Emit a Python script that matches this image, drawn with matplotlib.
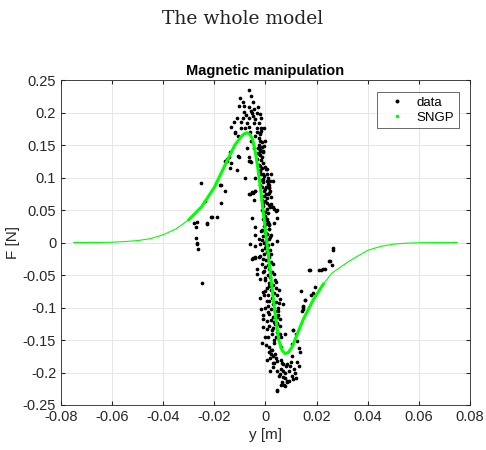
import numpy as np
import matplotlib
matplotlib.use("Agg")
import matplotlib.pyplot as plt

plt.rcParams.update({
    "font.family": "Liberation Sans",
    "axes.unicode_minus": False,
})

data_y = [
    # upper cluster
    -0.0066, -0.0058, -0.0100, -0.0087, -0.0050, -0.0103, -0.0066, -0.0045, -0.0084, -0.0053,
    -0.0034, -0.0021, -0.0113, -0.0089, -0.0066, -0.0040, -0.0016, -0.0123, -0.0074, -0.0045,
    -0.0027, -0.0134, -0.0095, -0.0081, -0.0063, -0.0034, -0.0019, -0.0006, -0.0118, -0.0108,
    -0.0042, -0.0027, -0.0022, -0.0014, -0.0056, -0.0027, -0.0019, -0.0139, -0.0108, -0.0066,
    -0.0027, -0.0152, -0.0060, -0.0160, -0.0152, -0.0144, -0.0139, -0.0136, -0.0113, -0.0103,
    -0.0081, -0.0066, -0.0056, -0.0001, -0.0006, -0.0011, -0.0022, -0.0016, -0.0001, 0.0007,
    -0.0050, -0.0075, -0.0095, -0.0030, -0.0060, -0.0035, -0.0045, -0.0020, -0.0055, -0.0085,
    -0.0120, -0.0072,
    # left scatter
    -0.0251, -0.0173, -0.0160, -0.0238, -0.0175, -0.0212, -0.0191, -0.0269, -0.0230, -0.0272,
    -0.0272, -0.0269, -0.0264, -0.0280, -0.0228, -0.0267, -0.0248, -0.0178, -0.0209,
    # middle
    -0.0022, -0.0009, 0.0005, 0.0012, 0.0018, -0.0060, -0.0048, -0.0040, 0.0005, 0.0020,
    0.0028, 0.0044, -0.0003, 0.0007, -0.0053, 0.0013, -0.0040, -0.0016, 0.0012, 0.0005,
    0.0018, -0.0040, -0.0027, 0.0046, -0.0060, -0.0040, -0.0020, 0.0002, -0.0066, -0.0053,
    -0.0042, 0.0010, 0.0002, 0.0012, 0.0018, 0.0020, 0.0033, 0.0041, 0.0046,
    # dense column
    -0.0025, -0.0015, -0.0020, -0.0010, -0.0022, -0.0012, -0.0018, -0.0008, -0.0025, -0.0012,
    0.0002, -0.0020, -0.0005, 0.0008, -0.0015, -0.0008, 0.0010, -0.0012, 0.0000, 0.0015,
    -0.0005, 0.0007, -0.0015, 0.0000, 0.0012, -0.0008, 0.0005, -0.0003, 0.0010, 0.0000,
    -0.0010, 0.0008, 0.0003, -0.0005, 0.0012, 0.0000, 0.0006, -0.0008, 0.0015, 0.0002,
    -0.0004, 0.0010, 0.0000, 0.0018, 0.0005, -0.0006, 0.0012, 0.0003, 0.0020, 0.0008,
    -0.0002, 0.0015, 0.0025, 0.0008, 0.0018, -0.0003, 0.0012, 0.0028, 0.0005, 0.0020,
    0.0035, 0.0010, 0.0025, 0.0015, 0.0030, 0.0008, 0.0022, 0.0038, 0.0012, 0.0028,
    0.0020, 0.0035, 0.0015, 0.0030, 0.0045, 0.0025, 0.0040, 0.0032,
    -0.0040, 0.0030, -0.0045, 0.0035, -0.0035, 0.0040, -0.0020, 0.0050, -0.0010, 0.0060,
    -0.0050, -0.0040, -0.0022, -0.0053, -0.0040, -0.0024, -0.0032, -0.0022, -0.0006, -0.0014,
    -0.0009, -0.0004, 0.0052, 0.0057, 0.0070, 0.0054, -0.0016, -0.0009, -0.0011, 0.0044, 0.0057,
    -0.0030, -0.0028, -0.0035, -0.0030, -0.0020, -0.0018, -0.0010, 0.0005, -0.0022, 0.0012,
    -0.0005, 0.0004, 0.0022, -0.0010, 0.0018, -0.0015, 0.0000, 0.0014, -0.0015, 0.0020,
    -0.0012, 0.0025, -0.0015, 0.0022, -0.0010, 0.0028, -0.0008, 0.0032, 0.0000, 0.0038,
    0.0015, 0.0040, 0.0000, 0.0045, 0.0005, 0.0042, 0.0000, 0.0048, 0.0010, 0.0050,
    0.0005, 0.0045, 0.0025, 0.0055, 0.0010, 0.0035, 0.0060, 0.0020,
    # right scatter
    0.0174, 0.0208, 0.0226, 0.0247, 0.0140, 0.0192, 0.0156, 0.0187, 0.0145, 0.0143,
    0.0265, 0.0263, 0.0252, 0.0260, 0.0232, 0.0216, 0.0177, 0.0153, 0.0148, 0.0146,
    0.0109, 0.0075, 0.0171,
    # lower cluster
    0.0005, -0.0003, -0.0014, 0.0002, 0.0036, 0.0046, 0.0057, 0.0109, 0.0119, 0.0122,
    0.0104, 0.0132, 0.0135, 0.0012, 0.0023, 0.0031, 0.0018, 0.0005, 0.0028, 0.0044,
    0.0059, 0.0070, 0.0083, 0.0099, 0.0122, 0.0130, 0.0112, 0.0031, 0.0044, 0.0018,
    0.0057, 0.0070, 0.0091, 0.0052, 0.0067, 0.0078, 0.0091, 0.0062, 0.0065, 0.0046,
    0.0109, 0.0104, 0.0044, 0.0072, 0.0077, 0.0085, 0.0015, 0.0025, 0.0038, 0.0080,
    0.0040, 0.0065, 0.0095, 0.0115, 0.0075, 0.0035, 0.0105, 0.0060, 0.0085, 0.0120,
]
data_F = [
    0.234, 0.225, 0.222, 0.217, 0.216, 0.210, 0.208, 0.206, 0.2015, 0.200,
    0.1995, 0.198, 0.191, 0.192, 0.191, 0.190, 0.191, 0.186, 0.184, 0.184,
    0.184, 0.178, 0.177, 0.176, 0.178, 0.177, 0.176, 0.177, 0.169, 0.1646,
    0.1646, 0.1615, 0.169, 0.154, 0.1565, 0.146, 0.141, 0.139, 0.133, 0.132,
    0.136, 0.125, 0.125, 0.126, 0.128, 0.132, 0.115, 0.122, 0.112, 0.131,
    0.0995, 0.126, 0.124, 0.157, 0.149, 0.1415, 0.167, 0.172, 0.117, 0.113,
    0.195, 0.197, 0.185, 0.208, 0.170, 0.170, 0.145, 0.156, 0.203, 0.210,
    0.170, 0.145,
    0.092, 0.088, 0.080, 0.0636, 0.0615, 0.039, 0.039, 0.031, 0.0297, 0.0236,
    0.0072, -0.001, -0.0103, 0.0297, 0.029, -0.003, -0.0615, 0.089, 0.040,
    0.111, 0.106, 0.106, 0.088, 0.080, 0.075, 0.077, 0.079, 0.0615, 0.0595,
    0.054, 0.050, 0.039, 0.036, 0.038, 0.0288, 0.0236, 0.0185, 0.0205, 0.0134,
    0.0082, 0.0113, 0.005, 0.003, -0.002, -0.006, -0.002, -0.005, 0.075, 0.078,
    0.080, 0.074, 0.085, 0.086, 0.095, 0.106, 0.052, 0.049, 0.038,
    0.150, 0.147, 0.143, 0.139, 0.135, 0.131, 0.127, 0.122, 0.119, 0.115,
    0.113, 0.110, 0.102, 0.099, 0.096, 0.093, 0.090, 0.085, 0.083, 0.077,
    0.072, 0.069, 0.066, 0.064, 0.058, 0.056, 0.052, 0.047, 0.045, 0.041,
    0.036, 0.032, 0.028, 0.025, 0.021, 0.017, 0.013, 0.010, 0.006, 0.002,
    -0.001, -0.004, -0.008, -0.011, -0.015, -0.018, -0.022, -0.027, -0.030, -0.034,
    -0.038, -0.041, -0.045, -0.050, -0.053, -0.058, -0.062, -0.066, -0.070, -0.073,
    -0.077, -0.081, -0.085, -0.090, -0.094, -0.098, -0.103, -0.106, -0.110, -0.114,
    -0.119, -0.123, -0.128, -0.132, -0.137, -0.141, -0.146, -0.150,
    0.100, 0.095, 0.065, 0.030, -0.040, -0.060, -0.085, -0.105, -0.130, -0.145,
    -0.0235, -0.0226, -0.0205, -0.026, -0.024, -0.023, -0.0488, -0.0558, -0.0435, -0.0333,
    -0.0765, -0.081, -0.0733, -0.0867, -0.095, -0.0928, -0.102, -0.112, -0.117, -0.114, -0.118,
    0.145, 0.138, 0.128, 0.120, 0.118, 0.105, 0.098, 0.094, 0.088, 0.084,
    0.079, 0.074, 0.070, 0.061, 0.055, 0.050, 0.034, 0.027, 0.019, 0.012,
    0.004, -0.002, -0.012, -0.017, -0.025, -0.033, -0.045, -0.048, -0.055, -0.058,
    -0.067, -0.070, -0.075, -0.080, -0.090, -0.092, -0.100, -0.100, -0.107, -0.112,
    -0.120, -0.125, -0.135, -0.140, -0.145, -0.155, -0.160, -0.165,
    -0.042, -0.042, -0.040, -0.0288, -0.075, -0.0688, -0.089, -0.078, -0.0985, -0.1046,
    -0.008, -0.011, -0.0277, -0.035, -0.040, -0.043, -0.080, -0.088, -0.097, -0.1026,
    -0.135, -0.140, -0.0415,
    -0.133, -0.1446, -0.154, -0.157, -0.125, -0.124, -0.129, -0.135, -0.140, -0.152,
    -0.156, -0.163, -0.169, -0.168, -0.171, -0.175, -0.177, -0.1815, -0.185, -0.183,
    -0.1805, -0.1866, -0.1866, -0.1835, -0.1835, -0.190, -0.194, -0.192, -0.197, -0.198,
    -0.202, -0.197, -0.198, -0.205, -0.207, -0.209, -0.213, -0.2195, -0.215, -0.2277,
    -0.210, -0.206, -0.2266, -0.2195, -0.221, -0.213, -0.160, -0.165, -0.172, -0.190,
    -0.178, -0.185, -0.190, -0.200, -0.200, -0.185, -0.175, -0.195, -0.215, -0.208,
]

# SNGP prediction
sngp_y = [-0.075, -0.065, -0.060, -0.055, -0.050, -0.045, -0.040, -0.035, -0.030, -0.025,
          -0.020, -0.015, -0.012, -0.0095, -0.0085, -0.0072, -0.0060, -0.0050, -0.0040,
          -0.0030, -0.0020, -0.0010, 0.0000, 0.0010, 0.0020, 0.0030, 0.0042, 0.0052,
          0.0065, 0.0078, 0.0090, 0.0105, 0.0122, 0.0148, 0.0187, 0.0226, 0.0260,
          0.0300, 0.0330, 0.0360, 0.0400, 0.0450, 0.0500, 0.0550, 0.0600, 0.0650, 0.0750]
sngp_F = [0.0, 0.0002, 0.0005, 0.0015, 0.003, 0.006, 0.012, 0.021, 0.035, 0.055,
          0.085, 0.126, 0.150, 0.163, 0.167, 0.169, 0.166, 0.158, 0.140,
          0.115, 0.085, 0.052, 0.018, -0.016, -0.050, -0.085, -0.122, -0.150,
          -0.166, -0.171, -0.169, -0.160, -0.143, -0.118, -0.088, -0.064, -0.047,
          -0.036, -0.028, -0.021, -0.012, -0.006, -0.0025, -0.001, -0.0003, -0.0001, 0.0]

green = "#00ff00"
sngp_y = np.array(sngp_y)
sngp_F = np.array(sngp_F)
inner = (sngp_y >= -0.03) & (sngp_y <= 0.024)

fig = plt.figure(figsize=(4.86, 4.5), dpi=100)
fig.text(0.5, 0.958, "The whole model", ha="center", va="center",
         fontsize=13.5, family="DejaVu Serif", color="#222222")
ax = fig.add_axes([0.1255, 0.1, 0.8415, 0.722])

ax.plot(data_y, data_F, ".", color="black", markersize=3.3, label="data")
ax.plot(sngp_y, sngp_F, "-", color=green, lw=0.8)
ax.plot(sngp_y[inner], sngp_F[inner], "-", color=green, lw=2.2)
ax.plot([], [], ".", color=green, markersize=3, label="SNGP")

ax.set_xlim(-0.08, 0.08)
ax.set_ylim(-0.25, 0.25)
ax.set_xticks(np.arange(-0.08, 0.081, 0.02))
ax.set_yticks(np.arange(-0.25, 0.251, 0.05))
ax.set_xticklabels(["-0.08", "-0.06", "-0.04", "-0.02", "0", "0.02", "0.04", "0.06", "0.08"])
ax.set_yticklabels(["-0.25", "-0.2", "-0.15", "-0.1", "-0.05", "0", "0.05", "0.1", "0.15", "0.2", "0.25"])
ax.tick_params(direction="in", top=True, right=True, labelsize=10.5, colors="#262626", length=3)
ax.grid(True, color="#e6e6e6", lw=0.7)
ax.set_axisbelow(True)
for s in ax.spines.values():
    s.set_color("#262626")
    s.set_linewidth(0.6)

ax.set_xlabel("y [m]", fontsize=11, color="#262626", labelpad=3)
ax.set_ylabel("F [N]", fontsize=11, color="#262626", labelpad=2)
ax.set_title("Magnetic manipulation", fontsize=10.5, fontweight="bold", pad=4)
leg = ax.legend(loc="upper right", bbox_to_anchor=(0.973, 0.963), borderaxespad=0,
                fontsize=9.5, fancybox=False, edgecolor="#262626", handlelength=2.3,
                handletextpad=0.35, markerscale=1.1, borderpad=0.35, labelspacing=0.2)
leg.get_frame().set_linewidth(0.6)

fig.savefig("out.png", dpi=100)
